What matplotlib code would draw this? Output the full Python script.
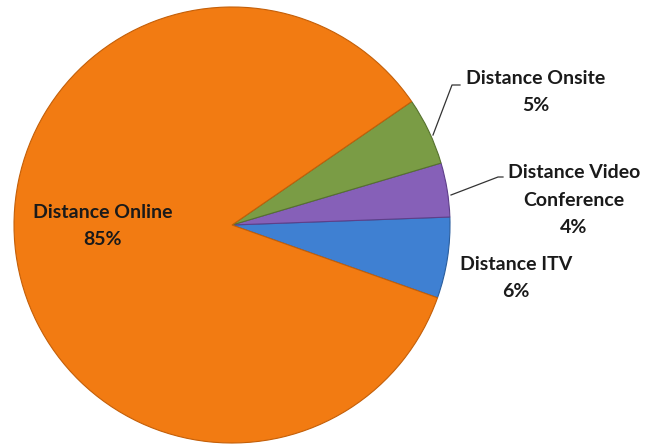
import matplotlib.pyplot as plt

# Data
categories = ["Distance ITV", "Distance Video\nConference", "Distance Onsite", "Distance Online"]
shares = [6, 4, 5, 85]
colors = ["#3F80D2", "#8660B8", "#7A9C45", "#F27B12"]
edges = ["#2A5E9E", "#5E3F8A", "#56722E", "#C45F08"]

fig = plt.figure(figsize=(6.58, 4.45), dpi=100)
ax = fig.add_axes([0, 0, 1, 1])

wedges, _ = ax.pie(shares, colors=colors, startangle=-19.5, counterclock=True,
                   center=(232, 220), radius=218,
                   wedgeprops=dict(linewidth=0.8))
for w, ec in zip(wedges, edges):
    w.set_edgecolor(ec)

ax.set_xlim(0, 658)
ax.set_ylim(0, 445)
ax.set_aspect('equal')
ax.axis('off')

font = dict(family=['Lato', 'DejaVu Sans'], fontsize=14, fontweight='bold',
            color='#1a1a1a', ha='center', va='center', linespacing=1.78)

ax.text(103, 219, f"{categories[3]}\n{shares[3]}%", **font)
ax.text(536, 353, f"{categories[2]}\n{shares[2]}%", **font)
ax.text(574, 245, f"{categories[1]}\n{shares[1]}%", **font)
ax.text(516, 167, f"{categories[0]}\n{shares[0]}%", **font)

# leader lines
ax.plot([433, 452, 460], [310, 360, 360], color='#333333', lw=0.9)
ax.plot([451, 498, 503], [250, 268, 268], color='#333333', lw=0.9)

fig.savefig("out.png", dpi=100)
